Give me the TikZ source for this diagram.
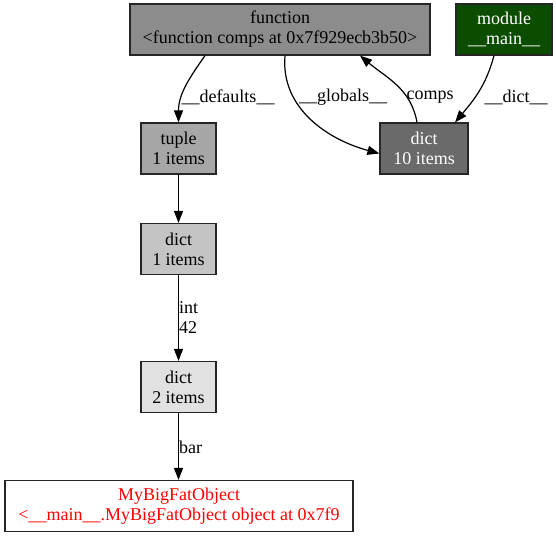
\documentclass[tikz,border=0pt]{standalone}
\usepackage{fontspec}
\setmainfont{Liberation Serif}
\usetikzlibrary{arrows.meta}
\definecolor{cfun}{HTML}{8C8C8C}
\definecolor{cmod}{HTML}{0B4C00}
\definecolor{ctup}{HTML}{A6A6A6}
\definecolor{cdten}{HTML}{6A6A6A}
\definecolor{cdone}{HTML}{C4C4C4}
\definecolor{cdtwo}{HTML}{E1E1E1}
\tikzset{
  obj/.style={draw=black!85, line width=1.2pt, inner sep=0pt, align=center,
    font=\fontsize{18}{20}\selectfont, minimum height=51pt,
    execute at begin node={\vspace*{5pt}}},
  edge/.style={draw=black, line width=1.2pt, -{Triangle[length=12pt,width=9pt]}},
  elabel/.style={inner sep=0pt, font=\fontsize{18}{20}\selectfont, align=left}
}
\begin{document}
\begin{tikzpicture}[x=1pt,y=-1pt]
\useasboundingbox (0,0) rectangle (556,537);
\node[obj, fill=cfun, minimum width=300pt] (function) at (280,29.5) {function\\<function comps at 0x7f929ecb3b50>};
\node[obj, fill=cmod, text=white, minimum width=96pt] (module) at (504,29.5) {module\\\_\_main\_\_};
\node[obj, fill=ctup, minimum width=75pt] (tuple) at (178.5,148.5) {tuple\\1 items};
\node[obj, fill=cdten, text=white, minimum width=88pt] (dten) at (424,148.5) {dict\\10 items};
\node[obj, fill=cdone, minimum width=75pt] (done) at (178.5,249) {dict\\1 items};
\node[obj, fill=cdtwo, minimum width=75pt] (dtwo) at (178.5,387) {dict\\2 items};
\node[obj, fill=white, text=red, minimum width=348pt] (big) at (179,506) {MyBigFatObject\\<\_\_main\_\_.MyBigFatObject object at 0x7f9};

\draw[edge] ([xshift=-75pt]function.south) to[out=-125,in=90] (tuple.north);
\draw[edge] ([xshift=5pt]function.south) to[out=-95,in=165] ([yshift=-5pt]dten.west);
\draw[edge] ([xshift=-7pt]dten.north) to[out=100,in=-40] ([xshift=80pt]function.south);
\draw[edge] ([xshift=-10pt]module.south) to[out=-105,in=50] ([xshift=31pt]dten.north);
\draw[edge] (tuple) -- (done);
\draw[edge] (done) -- (dtwo);
\draw[edge] (dtwo) -- (big.north -| dtwo.south);

\node[elabel] (ldef) at (228,97) {\_\_defaults\_\_};
\node[elabel] (lglob) at (343,97) {\_\_globals\_\_};
\node[elabel] (lcomps) at (430,97) {comps};
\node[elabel] (ldict) at (516,97) {\_\_dict\_\_};
\node[elabel, anchor=west] (lint) at (179,318) {int\\42};
\node[elabel, anchor=west] (lbar) at (179,447) {bar};
\end{tikzpicture}
\end{document}
